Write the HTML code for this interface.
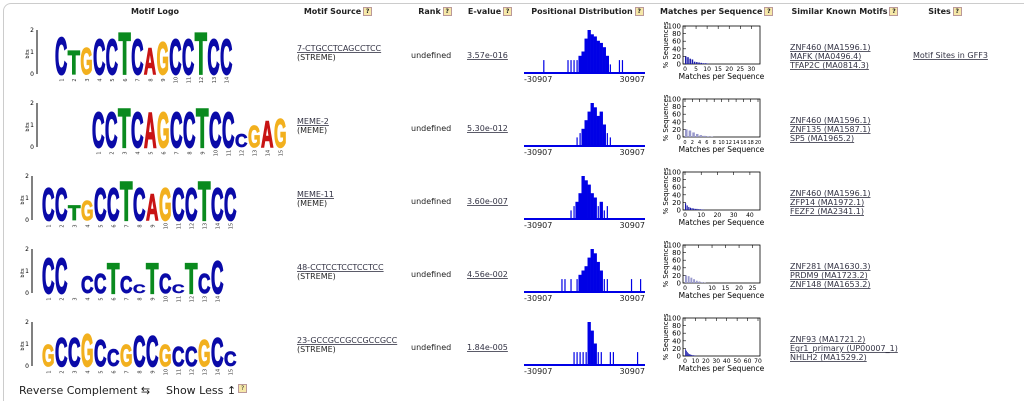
<!DOCTYPE html>
<html><head><meta charset="utf-8"><style>
html,body{margin:0;background:#fff;font-family:Verdana,"DejaVu Sans",sans-serif;font-size:8px;color:#222;overflow:hidden;width:1024px;height:401px}
#wrap{position:absolute;left:0;top:0;width:1024px;height:401px;overflow:hidden}
.box{position:absolute;left:3px;top:3px;width:1030px;height:410px;border:1px solid #ccc;border-radius:8px;box-sizing:border-box}
.h{position:absolute;top:7px;font-weight:bold;font-size:8px;text-align:center;white-space:nowrap}
.q{display:inline-block;width:7px;height:7px;background:#f6e8a8;border:1px solid #b99;font-size:6px;line-height:7px;text-align:center;margin-left:2px;vertical-align:top}
.t{position:absolute;white-space:nowrap;font-size:8px}
</style></head><body>
<div id="wrap">
<div class="box"></div>
<div class="h" style="left:110px;width:90px">Motif Logo</div>
<div class="h" style="left:288px;width:100px">Motif Source<span class="q">?</span></div>
<div class="h" style="left:410px;width:50px">Rank<span class="q">?</span></div>
<div class="h" style="left:465px;width:50px">E-value<span class="q">?</span></div>
<div class="h" style="left:530px;width:115px">Positional Distribution<span class="q">?</span></div>
<div class="h" style="left:660px;width:110px">Matches per Sequence<span class="q">?</span></div>
<div class="h" style="left:790px;width:110px">Similar Known Motifs<span class="q">?</span></div>
<div class="h" style="left:925px;width:40px">Sites<span class="q">?</span></div>
<svg id="sv" width="1024" height="401" style="position:absolute;left:0;top:0"></svg>
<div class="t" style="left:19px;top:384px;font-size:11px">Reverse Complement ⇆</div>
<div class="t" style="left:166px;top:384px;font-size:11px">Show Less ↥<span class="q">?</span></div>
</div>
<script>
const rowTops=[22,95,168,241,314];
const logoSeqs=["CTGCCTCAGCCTCC","CCTCAGCCTCCcGAG","CCtgCCTCAGCCTCC","CC CcTCcTCcTCC","GCCGCcGCCGccGCc"];
const logoHeights=[[1.7,1.1,1.2,1.6,1.6,1.9,1.6,1.2,1.5,1.6,1.6,1.9,1.6,1.6],
[1.6,1.6,1.8,1.6,1.6,1.6,1.6,1.6,1.8,1.6,1.6,0.6,1.0,1.2,1.3],
[1.5,1.5,0.7,0.9,1.5,1.5,1.8,1.5,1.2,1.5,1.5,1.5,1.8,1.5,1.5],
[1.6,1.6,0,0.8,0.9,1.4,0.8,0.4,1.4,0.9,0.4,1.4,0.9,1.5,1.6],
[1.0,1.3,1.3,1.5,1.2,0.8,1.0,1.4,1.4,1.0,0.9,0.9,1.2,1.3,0.7]];
const logoStart=[55,92,42,42,42];
const sources=[["7-CTGCCTCAGCCTCC","STREME"],["MEME-2","MEME"],["MEME-11","MEME"],["48-CCTCCTCCTCCTCC","STREME"],["23-GCCGCCGCCGCCGCC","STREME"]];
const evalues=["3.57e-016","5.30e-012","3.60e-007","4.56e-002","1.84e-005"];
const similar=[["ZNF460 (MA1596.1)","MAFK (MA0496.4)","TFAP2C (MA0814.3)"],["ZNF460 (MA1596.1)","ZNF135 (MA1587.1)","SP5 (MA1965.2)"],["ZNF460 (MA1596.1)","ZFP14 (MA1972.1)","FEZF2 (MA2341.1)"],["ZNF281 (MA1630.3)","PRDM9 (MA1723.2)","ZNF148 (MA1653.2)"],["ZNF93 (MA1721.2)","Egr1_primary (UP00007_1)","NHLH2 (MA1529.2)"]];
const posBins=[
[0,0,0,0,0,0,.3,0,0,0,0,0,0,0,.3,.3,.3,.3,.4,.5,.8,1,.9,.85,.75,.7,.6,.4,.2,0,0,.3,.3,0,0,0,0,0,0,0],
[0,0,0,0,0,0,0,0,0,0,0,0,0,0,0,0,0,.2,.3,.4,.6,.8,1,.9,.7,.8,.5,.3,.2,0,0,0,0,0,0,0,0,0,0,0],
[0,0,0,0,0,0,0,0,0,0,0,0,0,0,0,.2,.3,.4,.6,1,.9,.8,.6,.5,.3,.4,.2,.3,0,0,0,0,0,0,0,0,0,0,0,0],
[0,0,0,0,0,0,0,0,0,0,0,0,.3,.3,0,.3,0,.3,.4,.5,.6,.8,1,.9,.7,.5,.3,.3,0,0,0,0,0,0,0,.3,0,0,.3,0],
[0,0,0,0,0,0,0,0,0,0,0,0,0,0,0,0,.3,.3,.3,.3,.3,1,.8,.5,.3,.3,0,0,.3,.3,0,0,0,0,0,0,0,.3,0,0]];
const mpsMax=[33,20,45,27,70];
const mpsTicks=[[0,5,10,15,20,25,30],[0,2,4,6,8,10,12,14,16,18,20],[0,10,20,30,40],[0,5,10,15,20,25],[0,10,20,30,40,50,60,70]];
const mpsVals=[[20,18,14,12,6,5,4,3,2,2,1],[20,17,12,8,5,3,2,1],[18,12,8,6,5,4,3,3,2,2,1,1],[20,18,14,10,6,4,2,1],[18,14,10,7,5,4,3,2,2,1,1]];
const NS="http://www.w3.org/2000/svg",sv=document.getElementById('sv');
function mk(t,a,txt){const e=document.createElementNS(NS,t);for(const k in a)e.setAttribute(k,a[k]);if(txt!==undefined)e.textContent=txt;sv.appendChild(e);return e;}
const col={C:"#0a0aa8",G:"#f2b01e",A:"#c81414",T:"#0a8a1e"};
rowTops.forEach((top,r)=>{
 const base=top+52,bit=22;
 const axx=r<=1?37:32;
 let l=mk('line',{x1:axx,y1:base-44,x2:axx,y2:base,stroke:'#000','stroke-width':1});
 
 [["2",base-44],["1",base-22],["0",base]].forEach(([s,y])=>mk('text',{x:axx-3,y:y+2,'font-size':6,'text-anchor':'end',fill:'#000'},s));
 mk('text',{x:axx-8,y:base-20,'font-size':5,transform:`rotate(-90 ${axx-8} ${base-20})`,'text-anchor':'middle'},"bits");
 const seq=logoSeqs[r],w=r==0?12.7:13;
 for(let i=0;i<seq.length;i++){
  const ch=seq[i].toUpperCase(),h=logoHeights[r][i]*bit;
  const x=logoStart[r]+i*w;
  mk('text',{x:x+w/2,y:base+8,'font-size':5,'text-anchor':'middle',fill:'#333',transform:`rotate(-90 ${x+w/2} ${base+6})`},String(i+1));
  if(ch===' '||h<=0)continue;
  const t=mk('text',{x:0,y:0,'font-family':'Liberation Sans,sans-serif','font-weight':'bold','font-size':20,fill:col[ch],stroke:col[ch],'stroke-width':0.8,textLength:w-0.5,lengthAdjust:'spacingAndGlyphs',transform:`translate(${x},${base}) scale(1,${h/14.4})`},ch);
  
 }
 const s=mk('text',{x:297,y:top+29,'font-size':8,fill:'#334','text-decoration':'underline'},sources[r][0]);
 
 mk('text',{x:297,y:top+38,'font-size':8,fill:'#222'},"("+sources[r][1]+")");
 mk('text',{x:411,y:top+36,'font-size':8,fill:'#222'},"undefined");
 const e=mk('text',{x:467,y:top+36,'font-size':8,fill:'#334','text-decoration':'underline'},evalues[r]);
 
 const px0=524,px1=645,pb=top+51,nb=posBins[r].length,bw=(px1-px0)/nb;
 posBins[r].forEach((v,i)=>{if(v>0){const narrow=v<=0.3;const b=mk('rect',{x:px0+i*bw+(narrow?bw*0.35:0),y:pb-v*43,width:narrow?1.2:bw+.3,height:v*43,fill:'#0000e6'});}});
 mk('line',{x1:px0,y1:pb,x2:px1,y2:pb,stroke:'#0000e6','stroke-width':2});
 mk('text',{x:px0,y:pb+9,'font-size':8,fill:'#222'},"-30907");
 mk('text',{x:px1,y:pb+9,'font-size':8,fill:'#222','text-anchor':'end'},"30907");
 const mx0=683,mx1=760,my0=top+4,my1=top+42;
 const bx=mk('rect',{x:mx0,y:my0,width:mx1-mx0,height:my1-my0,fill:'none',stroke:'#000','stroke-width':.8});
 
 const X=v=>mx0+2+v/mpsMax[r]*(mx1-mx0-4),Y=v=>my1-v/100*(my1-my0);
 [0,20,40,60,80,100].forEach(v=>{mk('line',{x1:mx0,y1:Y(v),x2:mx0+3,y2:Y(v),stroke:'#000','stroke-width':.6});mk('text',{x:mx0-2,y:Y(v)+2.5,'font-size':7,'text-anchor':'end'},v);});
 mpsTicks[r].forEach(v=>{mk('line',{x1:X(v),y1:my0,x2:X(v),y2:my0+3,stroke:'#000','stroke-width':.6});mk('text',{x:X(v),y:my1+7,'font-size':r==1?5:6,'text-anchor':'middle'},v);});
 const step=(mx1-mx0-4)/mpsMax[r];
 mpsVals[r].forEach((v,i)=>{const b=mk('rect',{x:X(i),y:Y(v),width:Math.max(step*0.7,0.8),height:my1-Y(v),fill:r==1||r==3?'#9999cc':'#1a1aaa'});});
 mk('text',{x:(mx0+mx1)/2,y:my1+15,'font-size':7.5,'text-anchor':'middle'},"Matches per Sequence");
 mk('text',{x:668,y:(my0+my1)/2,'font-size':7,'text-anchor':'middle',transform:`rotate(-90 668 ${(my0+my1)/2})`},"% Sequences");
 similar[r].forEach((s2,i)=>{const a=mk('text',{x:790,y:top+28+i*9,'font-size':8,fill:'#334','text-decoration':'underline'},s2);});
 if(r==0){const a=mk('text',{x:913,y:top+36,'font-size':8,fill:'#334','text-decoration':'underline'},"Motif Sites in GFF3");}
});
</script>
</body></html>
